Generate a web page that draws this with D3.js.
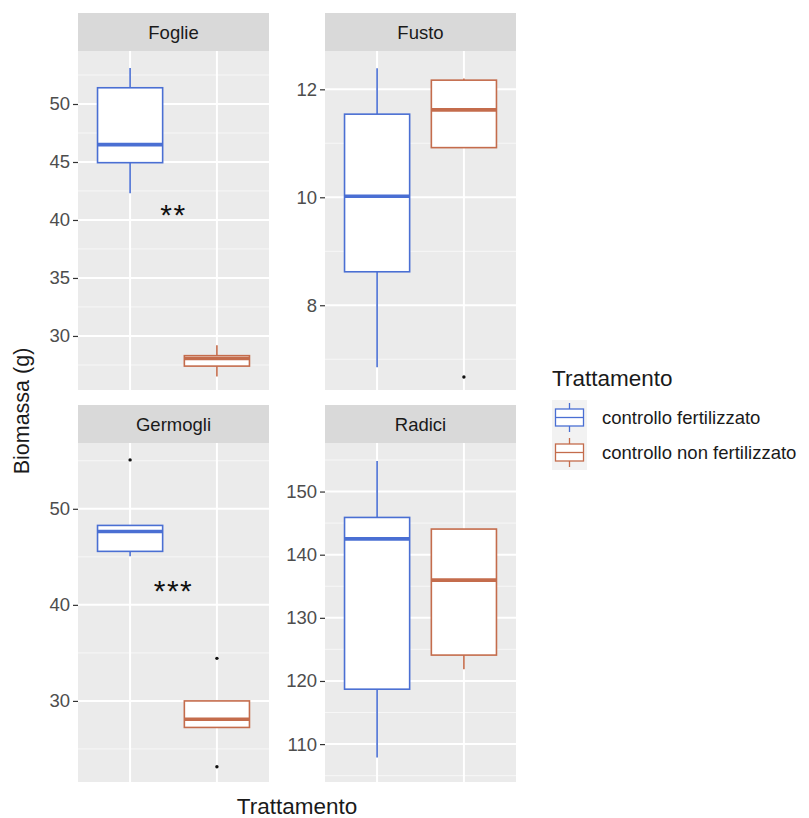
<!DOCTYPE html>
<html><head><meta charset="utf-8">
<script src="https://cdn.jsdelivr.net/npm/d3@7"></script>
<style>
body{margin:0;background:#fff}
svg{display:block;font-family:"Liberation Sans",Arial,sans-serif}
</style>
</head><body><svg id="chart" width="809" height="818"></svg>
<script>
// Facets and treatment groups
const facets = ["Foglie", "Fusto", "Germogli", "Radici"];
const groups = ["controllo fertilizzato", "controllo non fertilizzato"];

// Box summaries per facet: [lower whisker, Q1, median, Q3, upper whisker]
const fertStats = [
  [42.3, 44.94, 46.5, 51.4, 53.1],
  [6.85, 8.62, 10.02, 11.54, 12.39],
  [45.05, 45.57, 47.64, 48.27, 48.27],
  [107.9, 118.7, 142.5, 145.9, 154.85]
];
const nonFertStats = [
  [26.5, 27.4, 28.05, 28.3, 29.2],
  [10.92, 10.92, 11.62, 12.17, 12.2],
  [27.24, 27.24, 28.1, 30.0, 30.0],
  [121.84, 124.1, 135.97, 144.06, 144.06]
];
const fertOutliers = [[], [], [55.09], []];
const nonFertOutliers = [[], [6.67], [34.43, 23.15], []];

// Free y scales per facet
const yLimits = [[25.34, 54.57], [6.43, 12.71], [21.56, 56.85], [104.0, 157.69]];
const yTicks = [[30, 35, 40, 45, 50], [8, 10, 12], [30, 40, 50], [110, 120, 130, 140, 150]];
const yMinor = [[27.5, 32.5, 37.5, 42.5, 47.5, 52.5], [7, 9, 11], [25, 35, 45, 55], [105, 115, 125, 135, 145, 155]];

// Significance marks between the two groups
const signifText = ["**", null, "***", null];
const signifY = [41.0, null, 42.1, null];

const colors = ["#4a6fd3", "#c46c4c"];

const svg = d3.select("#chart");
const colLeft = [78, 325];
const panelW = 191;
const stripTop = [13, 405];
const stripH = 38;
const panelH = 339;

// discrete axis: categories at 1 and 2 on a [0.4, 2.6] range
const xPos = d3.scalePoint().domain(groups).range([panelW * 0.6 / 2.2, panelW * 1.6 / 2.2]);
const boxW = panelW * 0.75 / 2.2;

facets.forEach((name, i) => {
  const col = i % 2, row = Math.floor(i / 2);
  const left = colLeft[col];
  const top = stripTop[row] + stripH;
  const g = svg.append("g").attr("transform", `translate(${left},${top})`);
  const y = d3.scaleLinear().domain(yLimits[i]).range([panelH, 0]);

  // strip
  svg.append("rect").attr("x", left).attr("y", stripTop[row]).attr("width", panelW).attr("height", stripH).attr("fill", "#d9d9d9");
  svg.append("text").attr("x", left + panelW / 2).attr("y", stripTop[row] + stripH / 2).attr("dy", "0.36em")
    .attr("text-anchor", "middle").attr("font-size", 18.5).attr("fill", "#1a1a1a").text(name);

  // panel background & grid
  g.append("rect").attr("width", panelW).attr("height", panelH).attr("fill", "#ebebeb");
  g.selectAll(".minor").data(yMinor[i]).join("line")
    .attr("x1", 0).attr("x2", panelW).attr("y1", d => y(d)).attr("y2", d => y(d))
    .attr("stroke", "#f7f7f7").attr("stroke-width", 1);
  g.selectAll(".major").data(yTicks[i]).join("line")
    .attr("x1", 0).attr("x2", panelW).attr("y1", d => y(d)).attr("y2", d => y(d))
    .attr("stroke", "#ffffff").attr("stroke-width", 2);
  g.selectAll(".vmajor").data(groups).join("line")
    .attr("x1", d => xPos(d)).attr("x2", d => xPos(d)).attr("y1", 0).attr("y2", panelH)
    .attr("stroke", "#ffffff").attr("stroke-width", 2);

  // y axis
  const axis = d3.axisLeft(y).tickValues(yTicks[i]).tickFormat(d3.format("d")).tickSize(5).tickPadding(3);
  const ax = g.append("g").call(axis);
  ax.select(".domain").remove();
  ax.selectAll(".tick line").attr("stroke", "#333333").attr("stroke-width", 1.2);
  ax.selectAll(".tick text").attr("fill", "#4d4d4d").attr("font-size", 18.5)
    .attr("font-family", "Liberation Sans, Arial, sans-serif");

  // boxes
  const stats = [fertStats[i], nonFertStats[i]];
  const outs = [fertOutliers[i], nonFertOutliers[i]];
  groups.forEach((grp, k) => {
    const s = stats[k];
    const cx = xPos(grp);
    const c = colors[k];
    const bg = g.append("g");
    bg.append("line").attr("x1", cx).attr("x2", cx).attr("y1", y(s[3])).attr("y2", y(s[4]))
      .attr("stroke", c).attr("stroke-width", 1.6);
    bg.append("line").attr("x1", cx).attr("x2", cx).attr("y1", y(s[0])).attr("y2", y(s[1]))
      .attr("stroke", c).attr("stroke-width", 1.6);
    bg.append("rect").attr("x", cx - boxW / 2).attr("y", y(s[3])).attr("width", boxW)
      .attr("height", Math.max(0, y(s[1]) - y(s[3])))
      .attr("fill", "#ffffff").attr("stroke", c).attr("stroke-width", 1.6);
    bg.append("line").attr("x1", cx - boxW / 2).attr("x2", cx + boxW / 2).attr("y1", y(s[2])).attr("y2", y(s[2]))
      .attr("stroke", c).attr("stroke-width", 3.6);
    bg.selectAll("circle").data(outs[k]).join("circle")
      .attr("cx", cx).attr("cy", d => y(d)).attr("r", 1.7).attr("fill", "#111111");
  });

  // significance stars
  if (signifText[i]) {
    const fs = 30;
    const mid = (xPos(groups[0]) + xPos(groups[1])) / 2;
    g.append("text").attr("x", mid).attr("y", y(signifY[i]) + fs * 0.55)
      .attr("text-anchor", "middle").attr("font-size", fs).attr("letter-spacing", 1.5)
      .attr("fill", "#111111").text(signifText[i]);
  }
});

// axis titles
svg.append("text").attr("x", (colLeft[0] + colLeft[1] + panelW) / 2).attr("y", 814)
  .attr("text-anchor", "middle").attr("font-size", 22.5).attr("fill", "#1a1a1a").text("Trattamento");
svg.append("text").attr("transform", "translate(29,411) rotate(-90)")
  .attr("text-anchor", "middle").attr("font-size", 21.5).attr("fill", "#1a1a1a").text("Biomassa (g)");

// legend
const lg = svg.append("g").attr("transform", "translate(552,0)");
lg.append("text").attr("x", 0).attr("y", 386).attr("font-size", 22.5).attr("fill", "#1a1a1a").text("Trattamento");
const keyS = 35, keyTop = 400;
groups.forEach((grp, k) => {
  const ky = keyTop + k * keyS;
  const c = colors[k];
  lg.append("rect").attr("x", 0).attr("y", ky).attr("width", keyS).attr("height", keyS).attr("fill", "#f2f2f2");
  lg.append("line").attr("x1", keyS / 2).attr("x2", keyS / 2).attr("y1", ky + 3).attr("y2", ky + keyS - 3)
    .attr("stroke", c).attr("stroke-width", 1.3);
  lg.append("rect").attr("x", 3.5).attr("y", ky + 9).attr("width", keyS - 7).attr("height", keyS - 18)
    .attr("fill", "#ffffff").attr("stroke", c).attr("stroke-width", 1.3);
  lg.append("line").attr("x1", 3.5).attr("x2", keyS - 3.5).attr("y1", ky + keyS / 2).attr("y2", ky + keyS / 2)
    .attr("stroke", c).attr("stroke-width", 1.3);
  lg.append("text").attr("x", 50).attr("y", ky + keyS / 2).attr("dy", "0.36em")
    .attr("font-size", 18.5).attr("fill", "#1a1a1a").text(grp);
});
</script>
</body></html>
